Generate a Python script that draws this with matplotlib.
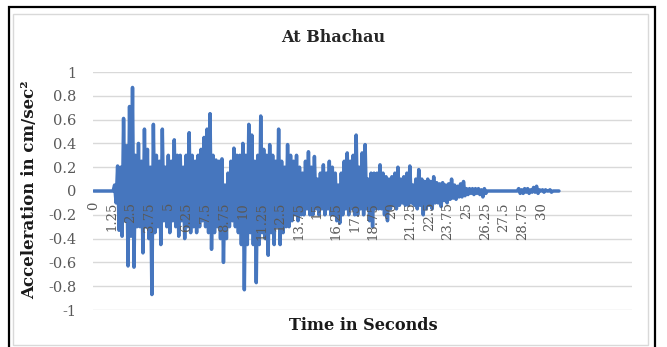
import numpy as np
import matplotlib.pyplot as plt
from matplotlib.patches import Rectangle

plt.rcParams['font.family'] = ['DejaVu Serif']

# sampling step of the record, seconds
dt = 0.1

# acceleration, one row per second
accel = [
    0, 0, 0, 0, 0, 0, 0, 0, 0, 0,
    0, 0, 0, 0, 0.05, -0.1, 0.21, -0.33, 0.2, -0.38,
    0.61, -0.25, 0.38, -0.63, 0.71, -0.38, 0.87, -0.64, 0.3, -0.3,
    0.4, -0.3, 0.25, -0.52, 0.52, -0.3, 0.35, -0.4, 0.2, -0.87,
    0.56, -0.35, 0.3, -0.3, 0.25, -0.45, 0.52, -0.25, 0.2, -0.3,
    0.3, -0.35, 0.25, -0.25, 0.43, -0.3, 0.3, -0.38, 0.3, -0.25,
    0.2, -0.4, 0.3, -0.3, 0.49, -0.35, 0.3, -0.3, 0.25, -0.35,
    0.3, -0.3, 0.35, -0.25, 0.45, -0.3, 0.52, -0.35, 0.65, -0.49,
    0.3, -0.35, 0.26, -0.3, 0.25, -0.4, 0.27, -0.6, 0.05, -0.4,
    0.15, -0.3, 0.25, -0.25, 0.36, -0.3, 0.3, -0.35, 0.3, -0.45,
    0.4, -0.83, 0.3, -0.45, 0.56, -0.35, 0.47, -0.45, 0.25, -0.77,
    0.3, -0.45, 0.63, -0.35, 0.35, -0.4, 0.3, -0.54, 0.39, -0.35,
    0.3, -0.45, 0.25, -0.3, 0.52, -0.45, 0.25, -0.35, 0.2, -0.3,
    0.39, -0.3, 0.3, -0.25, 0.25, -0.2, 0.3, -0.25, 0.2, -0.2,
    0.15, -0.2, 0.25, -0.15, 0.33, -0.2, 0.2, -0.2, 0.29, -0.15,
    0.1, -0.2, 0.15, -0.15, 0.22, -0.2, 0.15, -0.15, 0.25, -0.2,
    0.2, -0.2, 0.15, -0.25, 0.05, -0.27, 0.15, -0.2, 0.25, -0.15,
    0.32, -0.2, 0.25, -0.15, 0.3, -0.2, 0.47, -0.2, 0.2, -0.15,
    0.32, -0.2, 0.39, -0.15, 0.1, -0.25, 0.15, -0.3, 0.15, -0.15,
    0.15, -0.15, 0.22, -0.15, 0.15, -0.2, 0.12, -0.25, 0.1, -0.15,
    0.12, -0.12, 0.15, -0.15, 0.2, -0.12, 0.1, -0.1, 0.12, -0.12,
    0.15, -0.12, 0.21, -0.1, 0.05, -0.12, 0.1, -0.15, 0.18, -0.12,
    0.1, -0.2, 0.08, -0.15, 0.1, -0.12, 0.08, -0.15, 0.12, -0.1,
    0.07, -0.1, 0.06, -0.13, 0.07, -0.08, 0.05, -0.1, 0.06, -0.07,
    0.1, -0.06, 0.05, -0.07, 0.04, -0.05, 0.06, -0.05, 0.08, -0.04,
    0.02, -0.03, 0.02, -0.02, 0.02, -0.03, 0.02, -0.02, 0.02, -0.03,
    0.01, -0.05, 0.02, -0.02, 0, 0, 0, 0, 0, 0,
    0, 0, 0, 0, 0, 0, 0, 0, 0, 0,
    0, 0, 0, 0, 0, 0.02, -0.02, 0.01, -0.02, 0.02,
    -0.01, 0.02, -0.02, 0.01, -0.01, 0.03, -0.01, 0.04, -0.02, 0.01,
    0, 0.01, -0.01, 0.01, 0, 0, 0.01, -0.01, 0, 0,
    0, 0, 0,
]
time = np.arange(len(accel)) * dt

x_labels = ['0', '1.25', '2.5', '3.75', '5', '6.25', '7.5', '8.75', '10',
            '11.25', '12.5', '13.75', '15', '16.25', '17.5', '18.75', '20',
            '21.25', '22.5', '23.75', '25', '26.25', '27.5', '28.75', '30']
y_labels = ['1', '0.8', '0.6', '0.4', '0.2', '0', '-0.2', '-0.4', '-0.6',
            '-0.8', '-1']

fig = plt.figure(figsize=(6.67, 3.47), dpi=100)

# outer black frame and the chart area border
fig.patches.append(Rectangle((9 / 667, -0.05), 646 / 667, 1.05 - 7 / 347,
                             transform=fig.transFigure, fill=False,
                             edgecolor='black', lw=1.6))
fig.patches.append(Rectangle((13 / 667, 2 / 347), 635 / 667, 1 - 16 / 347,
                             transform=fig.transFigure, fill=False,
                             edgecolor='#d9d9d9', lw=1.0))

ax = fig.add_axes([93 / 667, 1 - 310 / 347, 539 / 667, 238 / 347])
for s in ax.spines.values():
    s.set_visible(False)
# category labels sit on the zero line, as in the spreadsheet chart
ax.spines['bottom'].set_position(('data', 0))
ax.set_axisbelow(False)

# gridlines drawn under the trace, labels stay above it
for v in y_labels:
    ax.axhline(float(v), color='#d9d9d9', lw=1.0, zorder=0.5)

ax.plot(time, accel, color='#4676BE', lw=2.5, solid_joinstyle='round',
        solid_capstyle='round', zorder=2)

ax.set_xlim(-0.05, 36.1)
ax.set_ylim(-1, 1)

ax.set_yticks([float(v) for v in y_labels])
ax.set_yticklabels(y_labels)
ax.set_xticks([float(v) for v in x_labels])
ax.set_xticklabels(x_labels, rotation=90, ha='center', va='top')

ax.tick_params(axis='both', length=0, labelcolor='#595959')
ax.tick_params(axis='y', pad=12, labelsize=10.5)
ax.tick_params(axis='x', pad=8, labelsize=9.5)

fig.text(0.5, 1 - 38 / 347, 'At Bhachau', ha='center', va='center',
         fontsize=11.5, fontweight='bold', color='#262626')
fig.text(30 / 667, 1 - 190 / 347, 'Acceleration in cm/sec²', rotation=90,
         ha='center', va='center', fontsize=12, fontweight='bold',
         color='#1a1a1a')
fig.text(363 / 667, 1 - 325 / 347, 'Time in Seconds', ha='center',
         va='center', fontsize=11.6, fontweight='bold', color='#1a1a1a')

fig.savefig('out.png', dpi=100)
